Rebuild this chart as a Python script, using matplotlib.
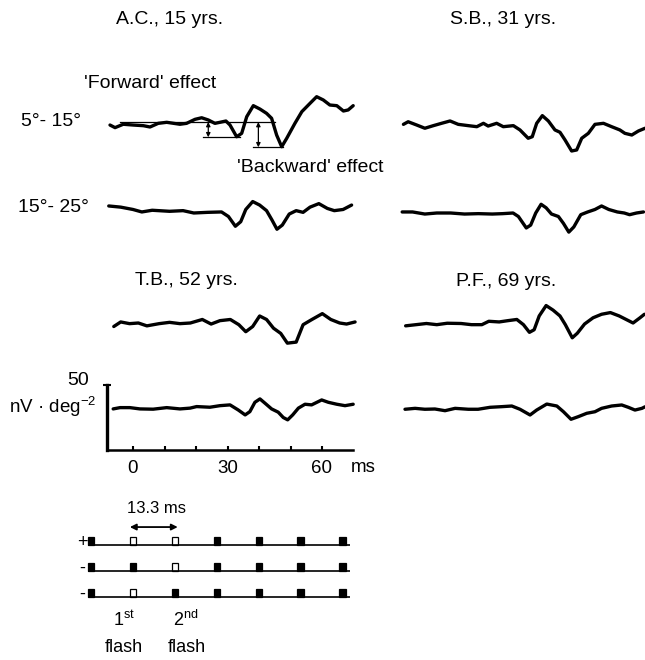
import matplotlib.pyplot as plt
from matplotlib.patches import Rectangle

plt.rcParams['font.family'] = ['Liberation Sans', 'DejaVu Sans']
plt.rcParams['mathtext.fontset'] = 'custom'
plt.rcParams['mathtext.rm'] = 'Liberation Sans'
plt.rcParams['mathtext.it'] = 'Liberation Sans:italic'

# ---- data: time (ms) and response (nV/deg^2, relative to pre-flash level) ----
ac_5_15_t = [-7.3, -5.7, -3.1, 0.1, 3.3, 5.4, 8.0, 10.7, 14.9, 17.0, 19.7, 21.8, 23.9, 26.0, 27.6, 29.5,
             30.8, 32.9, 34.5, 36.1, 38.2, 40.3, 42.4, 44.0, 45.6, 47.2, 48.8, 51.4, 53.6, 56.2, 58.3,
             60.4, 62.5, 64.7, 66.8, 68.3, 69.9]
ac_5_15_v = [-0.8, -2.8, -0.2, -0.8, -1.3, -2.3, 0.5, 1.3, -0.2, 0.5, 3.6, 4.8, 3.1, 0.5, 1.3, 2.3,
             -0.8, -9.8, -7.2, 5.6, 14.1, 11.5, 8.2, 4.4, -8.5, -17.5, -11.0, 0.5, 9.5, 15.9, 21.0,
             18.5, 14.6, 14.1, 10.0, 10.8, 14.1]

ac_15_25_t = [-7.7, -3.9, 0.0, 2.8, 6.1, 11.6, 15.9, 19.3, 23.7, 28.1, 30.3, 32.5, 34.2, 35.8, 38.0,
              40.2, 42.4, 44.1, 45.7, 47.4, 49.6, 51.8, 54.0, 56.2, 59.0, 61.7, 63.9, 66.7, 69.4]
ac_15_25_v = [3.1, 2.2, 0.4, -1.5, -0.2, -1.0, -0.5, -2.3, -1.8, -1.5, -5.0, -12.5, -9.0, 0.4, 6.5,
              3.8, -0.5, -7.6, -14.8, -11.6, -3.1, -0.5, -1.8, 2.2, 4.9, 1.2, -0.5, 0.4, 3.8]

sb_5_15_t = [-7.8, -6.3, -3.6, -1.0, 1.7, 4.3, 7.0, 9.6, 12.8, 15.5, 17.6, 19.1, 21.8, 23.9, 27.1,
             29.2, 31.8, 33.1, 34.5, 36.3, 38.2, 40.3, 41.9, 43.5, 45.6, 47.2, 48.8, 50.9, 53.0,
             55.7, 58.3, 60.9, 62.5, 64.7, 66.8, 68.9]
sb_5_15_v = [0.5, 2.5, 0.0, -2.5, -0.5, 1.3, 3.1, 0.5, -0.5, -1.3, 1.3, -0.8, 1.3, -1.3, -0.5,
             -3.8, -10.2, -9.0, 1.3, 7.2, 3.1, -3.8, -5.6, -11.5, -20.0, -19.2, -10.2, -6.4, 0.5,
             1.3, -1.3, -3.8, -6.4, -7.7, -4.6, -2.5]

sb_15_25_t = [-8.2, -4.9, -1.0, 2.8, 7.2, 11.6, 16.0, 20.4, 23.7, 27.0, 28.7, 31.2, 32.6, 34.2, 35.9,
              37.5, 39.2, 41.4, 43.0, 44.7, 46.3, 48.5, 50.7, 53.0, 55.1, 57.4, 60.1, 62.3, 64.0,
              66.2, 68.4]
sb_15_25_v = [0.8, 0.8, -0.8, 0.0, 0.0, -0.8, -0.5, -0.8, -0.5, 0.0, -2.7, -11.5, -9.3, 0.0, 6.7,
              4.0, -0.8, -2.7, -8.0, -14.7, -10.7, -1.3, 0.8, 2.7, 5.4, 2.7, 0.8, 0.0, -1.3,
              0.0, 0.8]

tb_5_15_t = [-6.1, -3.9, -1.1, 1.7, 4.4, 8.3, 11.6, 14.9, 18.2, 22.0, 24.8, 27.6, 30.9, 33.6, 35.8,
             38.0, 40.2, 42.4, 44.6, 46.9, 49.0, 51.8, 54.0, 56.8, 60.1, 62.8, 65.6, 67.8, 70.5]
tb_5_15_v = [-2.7, 0.8, -0.5, 0.0, -2.2, -0.5, 0.5, -0.5, 0.0, 2.7, -0.8, 1.8, 2.7, -1.3, -6.7,
             -2.7, 5.4, 2.7, -4.0, -8.0, -15.5, -14.7, -1.3, 2.7, 7.2, 2.7, 0.0, -0.8, 0.8]

tb_15_25_t = [-6.3, -4.1, -1.0, 2.2, 6.4, 10.7, 14.9, 18.1, 20.2, 24.4, 27.6, 30.8, 33.4, 35.6, 37.1,
              38.7, 40.3, 41.9, 44.0, 46.1, 47.7, 49.1, 50.7, 52.5, 54.6, 56.7, 59.9, 62.0, 64.7,
              67.3, 69.9]
tb_15_25_v = [-0.4, 0.6, 0.6, -0.4, -0.6, 0.6, -0.4, 0.2, 1.4, 0.9, 2.1, 2.7, -1.2, -5.0, -2.5,
              4.7, 7.3, 4.0, -0.4, -2.9, -7.0, -8.8, -5.0, 0.2, 3.2, 2.7, 6.5, 4.7, 3.2,
              2.1, 3.2]

pf_5_15_t = [-7.1, -3.8, -0.5, 2.8, 6.1, 10.5, 13.8, 17.1, 19.3, 22.6, 25.4, 28.2, 30.3, 32.2, 33.7,
             35.3, 37.5, 39.7, 41.9, 43.6, 45.8, 47.4, 49.7, 52.4, 55.1, 57.9, 60.7, 62.9, 65.1,
             67.3, 68.7]
pf_5_15_v = [-1.8, -0.9, 0.0, -0.9, 0.2, 0.0, -0.9, -0.9, 1.7, 1.2, 2.2, 3.1, -0.9, -6.8, -4.8,
             5.8, 13.8, 10.3, 5.8, -0.9, -11.0, -7.5, -0.4, 4.4, 7.1, 8.4, 5.8, 3.1, 0.4,
             4.4, 7.1]

pf_15_25_t = [-7.3, -4.1, -1.0, 2.2, 5.4, 8.6, 12.8, 15.9, 19.7, 23.4, 26.6, 29.2, 32.4, 34.5, 37.7,
              40.9, 43.0, 45.4, 47.7, 50.4, 53.0, 55.1, 58.3, 61.5, 63.6, 65.7, 67.9, 68.9]
pf_15_25_v = [-0.2, 0.5, -0.2, 0.0, -1.3, 0.5, -0.2, -0.2, 1.3, 1.8, 2.3, -0.2, -4.6, -0.8, 3.8,
              2.3, -2.1, -7.9, -5.9, -3.3, -2.1, 0.5, 2.3, 3.1, 1.3, -0.8, 0.5, 1.7]

# flash sequence (ms) and which frames are white (open) in each of the 3 rows
stim_times = [-13.3, 0.0, 13.3, 26.6, 39.9, 53.2, 66.5]
stim_signs = ['+', '-', '-']
stim_filled = [[1, 0, 0, 1, 1, 1, 1],
               [1, 1, 0, 1, 1, 1, 1],
               [1, 0, 1, 1, 1, 1, 1]]

# ---- layout (pixels) ----
W, H = 645, 660
PX_MS = 3.15
PX_UNIT = 1.3
fig = plt.figure(figsize=(W / 100, H / 100), dpi=100)


def px_axes(left, top, width, height):
    return fig.add_axes([left / W, 1 - (top + height) / H, width / W, height / H])


def trace_axes(zero_px, base_px, xlim=(-10, 72), ylim=(-25, 25)):
    left = zero_px + xlim[0] * PX_MS
    top = base_px - ylim[1] * PX_UNIT
    ax = px_axes(left, top, (xlim[1] - xlim[0]) * PX_MS, (ylim[1] - ylim[0]) * PX_UNIT)
    ax.set_xlim(xlim)
    ax.set_ylim(ylim)
    ax.axis('off')
    return ax


def ftext(x, y, s, size=13.5, **kw):
    fig.text(x / W, 1 - y / H, s, ha='center', va='center', fontsize=size, **kw)


LW = 2.4
panels = [
    (ac_5_15_t, ac_5_15_v, 133, 124),
    (ac_15_25_t, ac_15_25_v, 133, 210),
    (sb_5_15_t, sb_5_15_v, 428, 125),
    (sb_15_25_t, sb_15_25_v, 428, 213),
    (tb_5_15_t, tb_5_15_v, 133, 323),
    (pf_5_15_t, pf_5_15_v, 428, 323.5),
    (pf_15_25_t, pf_15_25_v, 428, 409),
]
axes = []
for t, v, x0, y0 in panels:
    ax = trace_axes(x0, y0)
    ax.plot(t, v, color='black', lw=LW, solid_joinstyle='round', solid_capstyle='round')
    axes.append(ax)

# forward / backward effect markers on A.C. 5-15
ax = axes[0]
ax.plot([-4, 45], [1.5, 1.5], color='black', lw=0.9)
ax.plot([22.3, 34], [-10.2, -10.2], color='black', lw=0.9)
ax.plot([38.2, 47.7], [-17.9, -17.9], color='black', lw=0.9)
for tx, lo in [(23.9, -10.2), (39.8, -17.9)]:
    ax.annotate('', xy=(tx, lo), xytext=(tx, 1.5),
                arrowprops=dict(arrowstyle='<|-|>', color='black', lw=0.9,
                                mutation_scale=6, shrinkA=0, shrinkB=0))

# T.B. 15-25 with scale axes
sc = px_axes(133 - 8.3 * PX_MS, 450 - 52 * PX_UNIT, 80.3 * PX_MS, 52 * PX_UNIT)
sc.set_xlim(-8.3, 72)
sc.set_ylim(0, 52)
sc.plot(tb_15_25_t, [v + 32 for v in tb_15_25_v], color='black', lw=LW,
        solid_joinstyle='round', solid_capstyle='round')
for s in ['top', 'right']:
    sc.spines[s].set_visible(False)
sc.spines['left'].set_bounds(0, 50)
sc.spines['left'].set_linewidth(2.4)
sc.spines['bottom'].set_bounds(-8.3, 69.8)
sc.spines['bottom'].set_linewidth(1.8)
sc.set_xticks(range(0, 70, 10))
sc.set_xticklabels(['0', '', '', '30', '', '', '60'])
sc.tick_params(axis='x', direction='in', length=3, width=1.5, pad=7, labelsize=13.5)
sc.set_yticks([50])
sc.set_yticklabels([''])
sc.tick_params(axis='y', direction='inout', length=6, width=1.5)
sc.patch.set_alpha(0)

# stimulus diagram
st = px_axes(133 - 18 * PX_MS, 495, 90 * PX_MS, 110)
st.set_xlim(-18, 72)
st.set_ylim(60 / 26, -50 / 26)
st.axis('off')
for i, row in enumerate(stim_filled):
    st.hlines(i, -14.3, 68.9, color='black', lw=1.2)
    st.text(-16.2, i - 0.1, stim_signs[i], ha='center', va='center', fontsize=13)
    for tt, f in zip(stim_times, row):
        st.add_patch(Rectangle((tt - 1.0, i - 0.3), 2.0, 0.3,
                               facecolor='black' if f else 'white', edgecolor='black', lw=0.9))
st.annotate('', xy=(-1, -0.69), xytext=(14.2, -0.69),
            arrowprops=dict(arrowstyle='<|-|>', color='black', lw=1.3,
                            mutation_scale=9, shrinkA=0, shrinkB=0))
st.text(7.6, -1.42, '13.3 ms', ha='center', va='center', fontsize=12)

# texts
ftext(170, 20, 'A.C., 15 yrs.', 14)
ftext(503, 20, 'S.B., 31 yrs.', 14)
ftext(186, 280, 'T.B., 52 yrs.', 14)
ftext(506, 282, 'P.F., 69 yrs.', 14)
ftext(150, 84, "'Forward' effect", 14)
ftext(310, 168, "'Backward' effect", 14)
ftext(51, 122, '5°- 15°', 14)
ftext(53, 207, '15°- 25°', 14)
ftext(78, 380, '50', 14)
ftext(53, 407, r'nV · deg$^{\mathrm{-2}}$', 13.5)
ftext(363, 468, 'ms', 13.5)
ftext(124, 620, r'1$^{\mathrm{st}}$', 13)
ftext(124, 648, 'flash', 13)
ftext(186, 620, r'2$^{\mathrm{nd}}$', 13)
ftext(187, 648, 'flash', 13)

fig.savefig('out.png', dpi=100)
